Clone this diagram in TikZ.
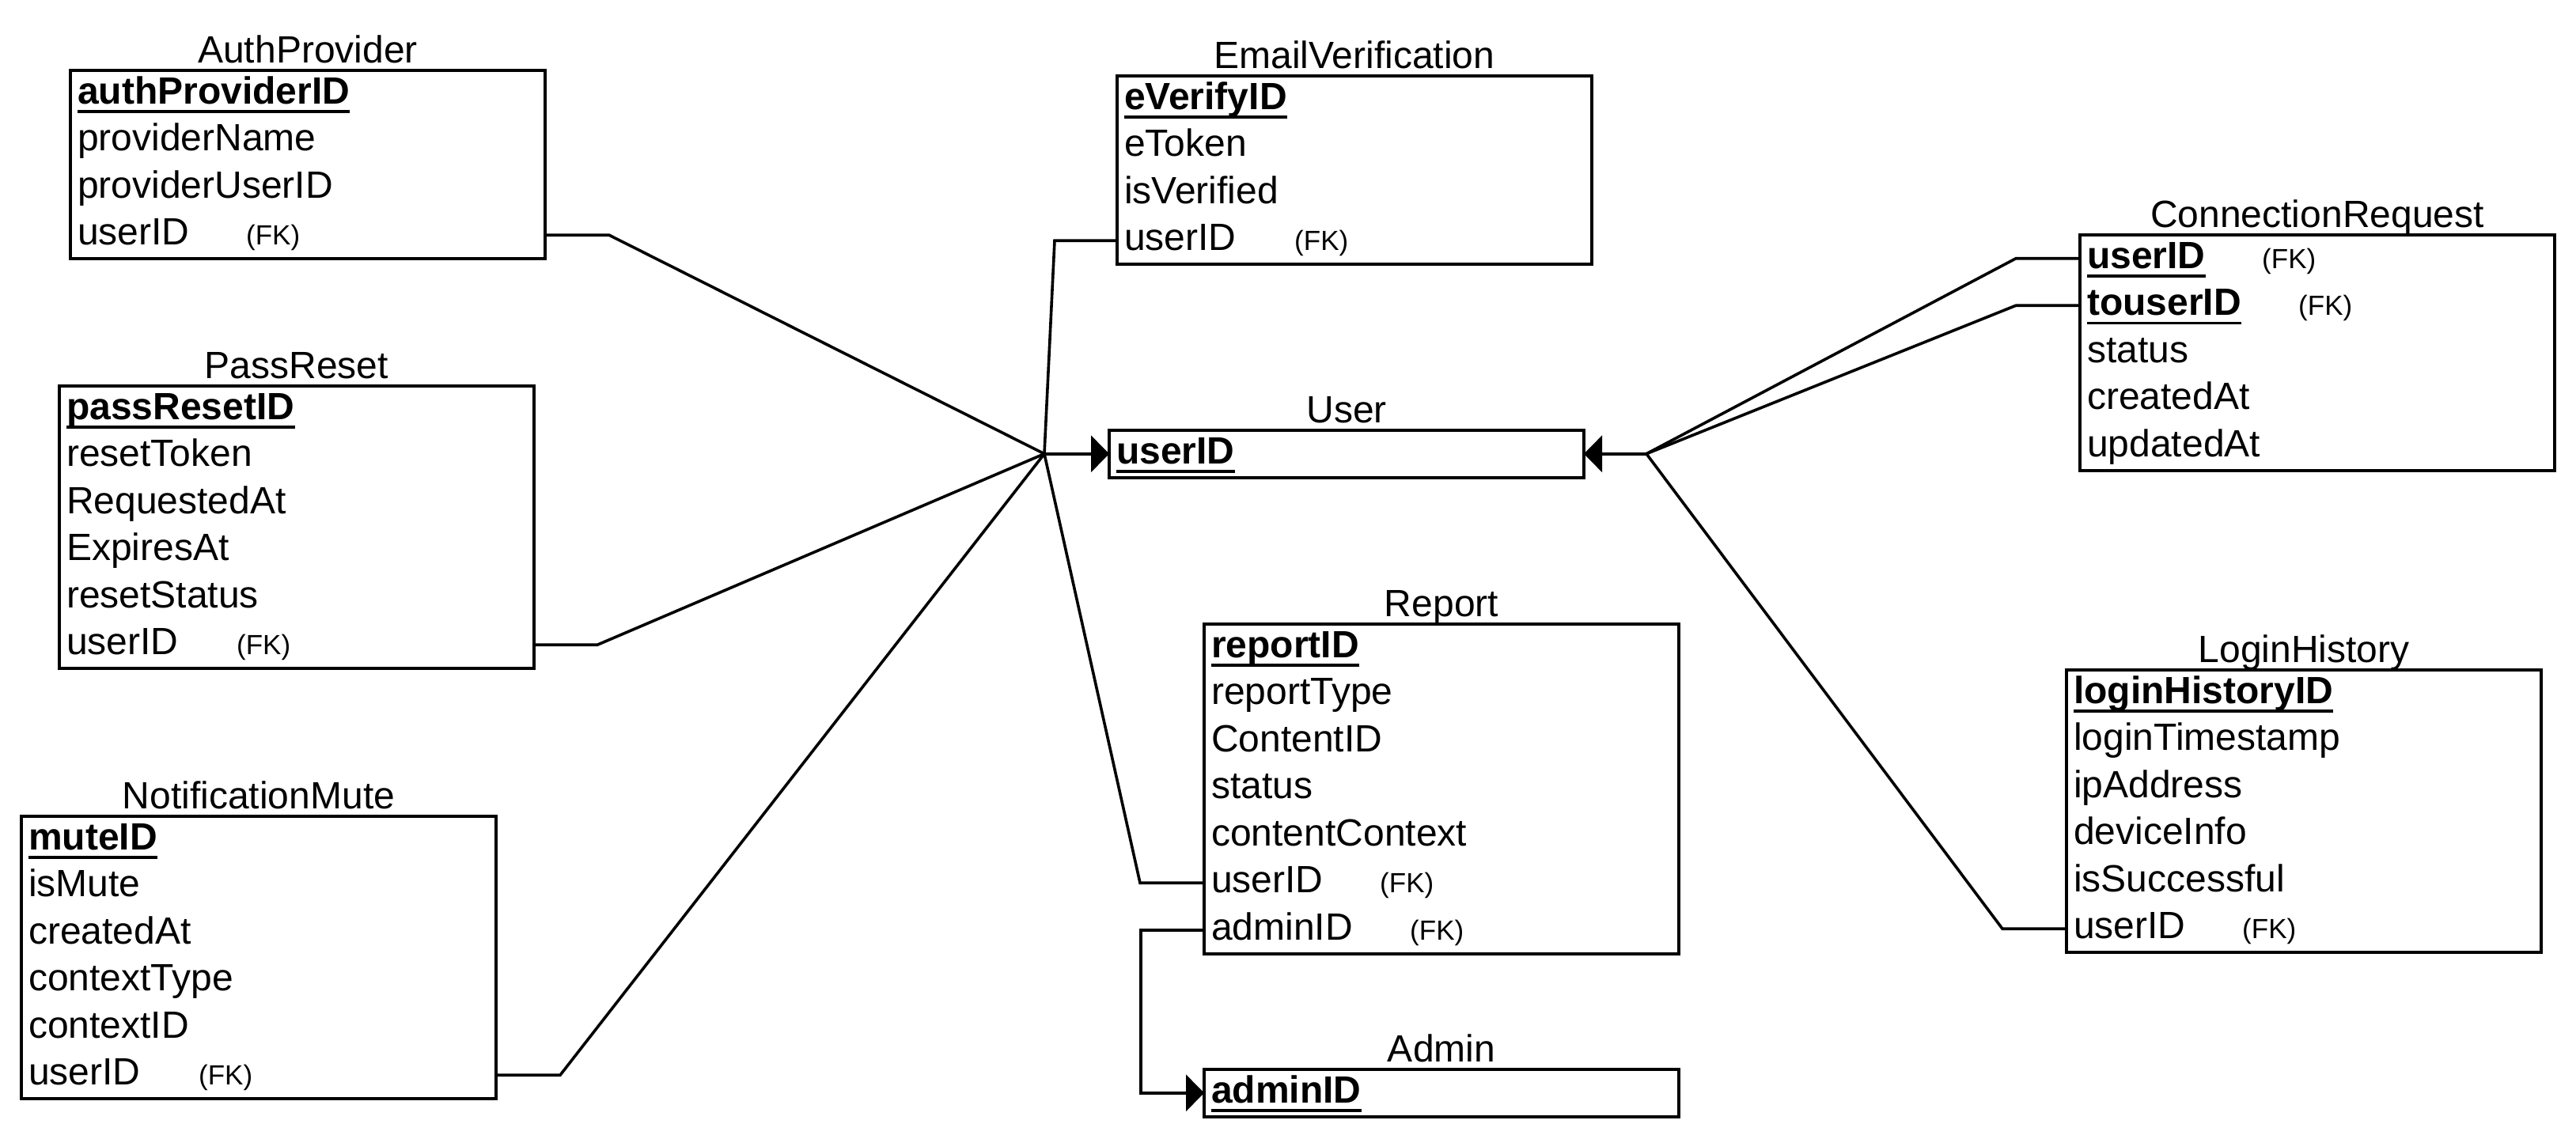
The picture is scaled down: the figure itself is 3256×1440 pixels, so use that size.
\documentclass[tikz,border=0pt]{standalone}
\usepackage{fontspec}
\setmainfont{Liberation Sans}
\usetikzlibrary{arrows.meta}

\tikzset{
  entitybox/.style={draw, line width=4pt, minimum width=600pt, inner sep=0pt, outer sep=0pt, anchor=north west},
  etitle/.style={font=\fontsize{48}{57}\selectfont, anchor=base, inner sep=0pt},
  attr/.style={font=\fontsize{48}{57}\selectfont, anchor=base west, inner sep=0pt},
  pkattr/.style={font=\fontsize{48}{57}\selectfont\bfseries, anchor=base west, inner sep=0pt},
  fk/.style={font=\fontsize{35}{42}\selectfont, anchor=base west, inner sep=0pt},
  pkline/.style={line width=3.3pt},
  conn/.style={line width=3.6pt, line join=miter},
  tip/.style={-{Triangle[length=23pt,width=46pt]}},
}

% entity box: id, x, y, height, title
\newcommand{\erbox}[5]{%
  \node[entitybox, minimum height=#4] (#1) at (#2,#3) {};
  \node[etitle] (#1-t) at ([yshift=10pt]#1.north) {#5};
}
% plain attribute row: id, index, text
\newcommand{\errow}[3]{%
  \coordinate (#1-c#2) at ([yshift={-(#2-0.5)*59.5pt}]#1.north west);
  \node[attr] (#1-#2) at ([xshift=9pt,yshift={-(42+(#2-1)*59.5)*1pt}]#1.north west) {#3};
}
% key attribute row, bold and underlined: id, index, text
\newcommand{\erpk}[3]{%
  \coordinate (#1-c#2) at ([yshift={-(#2-0.5)*59.5pt}]#1.north west);
  \node[pkattr] (#1-#2) at ([xshift=9pt,yshift={-(42+(#2-1)*59.5)*1pt}]#1.north west) {#3};
  \draw[pkline] ([yshift=-10pt]#1-#2.base west) -- ([yshift=-10pt]#1-#2.base east);
}
% foreign key marker: id, index, x offset
\newcommand{\erfk}[3]{%
  \node[fk] (#1-fk#2) at ([xshift=#3pt,yshift={-(42+(#2-1)*59.5)*1pt}]#1.north west) {(FK)};
}

\begin{document}
\begin{tikzpicture}[x=1pt, y=-1pt]
\fill[white] (0,0) rectangle (3256,1440);
\useasboundingbox (0,0) rectangle (3256,1440);

% AuthProvider
\erbox{ap}{89}{89}{238pt}{AuthProvider}
\erpk{ap}{1}{authProviderID\ }
\errow{ap}{2}{providerName}
\errow{ap}{3}{providerUserID}
\errow{ap}{4}{userID}
\erfk{ap}{4}{222}

% PassReset
\erbox{pr}{75}{488}{357pt}{PassReset}
\erpk{pr}{1}{passResetID}
\errow{pr}{2}{resetToken}
\errow{pr}{3}{RequestedAt}
\errow{pr}{4}{ExpiresAt}
\errow{pr}{5}{resetStatus}
\errow{pr}{6}{userID}
\erfk{pr}{6}{224}

% NotificationMute
\erbox{nm}{27}{1032}{357pt}{NotificationMute}
\erpk{nm}{1}{muteID}
\errow{nm}{2}{isMute}
\errow{nm}{3}{createdAt}
\errow{nm}{4}{contextType}
\errow{nm}{5}{contextID}
\errow{nm}{6}{userID}
\erfk{nm}{6}{224}

% EmailVerification
\erbox{ev}{1412}{96}{238pt}{EmailVerification}
\erpk{ev}{1}{eVerifyID}
\errow{ev}{2}{eToken}
\errow{ev}{3}{isVerified}
\errow{ev}{4}{userID}
\erfk{ev}{4}{224}

% User
\erbox{us}{1402}{544}{59.5pt}{User}
\erpk{us}{1}{userID}

% ConnectionRequest
\erbox{cr}{2629}{297}{297.5pt}{ConnectionRequest}
\erpk{cr}{1}{userID}
\erfk{cr}{1}{230}
\erpk{cr}{2}{touserID}
\erfk{cr}{2}{276}
\errow{cr}{3}{status}
\errow{cr}{4}{createdAt}
\errow{cr}{5}{updatedAt}

% LoginHistory
\erbox{lh}{2612}{847}{357pt}{LoginHistory}
\erpk{lh}{1}{loginHistoryID\ }
\errow{lh}{2}{loginTimestamp}
\errow{lh}{3}{ipAddress}
\errow{lh}{4}{deviceInfo}
\errow{lh}{5}{isSuccessful}
\errow{lh}{6}{userID}
\erfk{lh}{6}{222}

% Report
\erbox{rp}{1522}{789}{416.5pt}{Report}
\erpk{rp}{1}{reportID}
\errow{rp}{2}{reportType}
\errow{rp}{3}{ContentID}
\errow{rp}{4}{status}
\errow{rp}{5}{contentContext}
\errow{rp}{6}{userID}
\erfk{rp}{6}{222}
\errow{rp}{7}{adminID}
\erfk{rp}{7}{260}

% Admin
\erbox{ad}{1522}{1352}{59.5pt}{Admin}
\erpk{ad}{1}{adminID}

% junction points beside User
\coordinate (hubL) at ([xshift=-82pt]us.west);
\coordinate (hubR) at ([xshift=79pt]us.east);

% relationships on the left of User
\draw[conn] (ap.east |- ap-c4) -- ++(81,0) -- (hubL);
\draw[conn] (pr.east |- pr-c6) -- ++(80,0) -- (hubL);
\draw[conn] (nm.east |- nm-c6) -- ++(81,0) -- (hubL);
\draw[conn] (ev-c4) -- ++(-79,0) -- (hubL);
\draw[conn] (rp-c6) -- ++(-81,0) -- (hubL);
\draw[conn,tip] (hubL) -- (us.west);

% relationships on the right of User
\draw[conn] (cr-c1) -- ++(-81,0) -- (hubR);
\draw[conn] (cr-c2) -- ++(-81,0) -- (hubR);
\draw[conn] (lh-c6) -- ++(-81,0) -- (hubR);
\draw[conn,tip] (hubR) -- (us.east);

% Report to Admin
\draw[conn,tip] (rp-c7) -- ++(-80,0) |- (ad.west);
\end{tikzpicture}
\end{document}
